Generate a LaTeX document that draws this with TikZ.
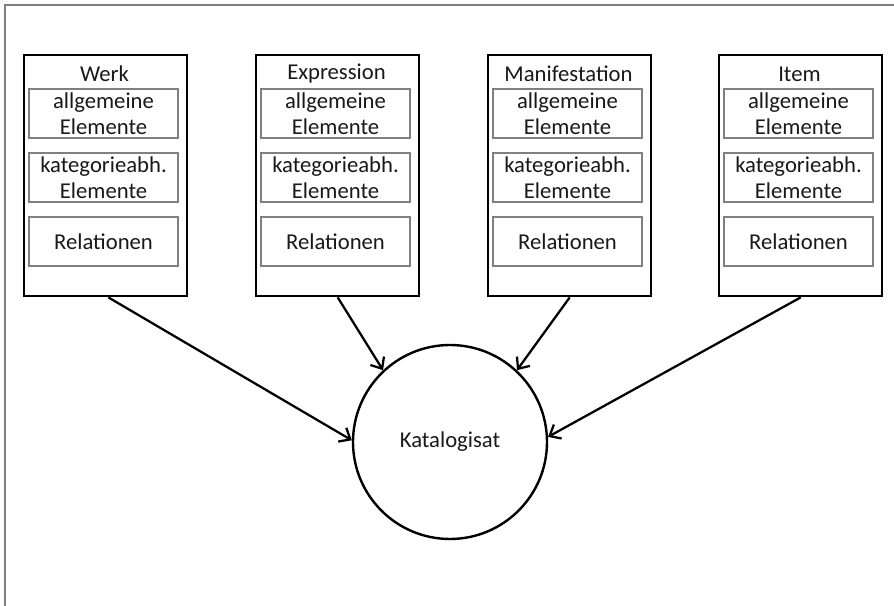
\documentclass[tikz,border=0pt]{standalone}
\usepackage{fontspec}
\setmainfont{Carlito}
\usetikzlibrary{arrows.meta,calc}
\begin{document}
\begin{tikzpicture}[x=0.75pt,y=-0.75pt,
  txt/.style={font=\fontsize{17}{19.5}\selectfont, text=black!90},
  entity/.style={draw=black, line width=1.8pt, fill=white, minimum width=163*0.75pt, minimum height=241*0.75pt, anchor=north west, inner sep=0pt},
  part/.style={txt, draw=gray, line width=2.2pt, minimum width=149*0.75pt, minimum height=49*0.75pt, align=center, inner sep=0pt},
  title/.style={txt, inner sep=0pt},
  cat/.style={txt, draw=black, line width=1.8pt, circle, minimum size=194*0.75pt, inner sep=0pt},
  link/.style={line width=1.7pt, -{Straight Barb[length=7pt,width=12pt]}},
  frame/.style={draw=gray, line width=1.2pt}
]
\useasboundingbox (0,0) rectangle (894,606);
\draw[frame] (5,606) -- (5,5) -- (894,5);

\foreach \nm/\lbl/\x in {werk/Werk/23, expr/Expression/255, mani/Manifestation/487, item/Item/718}{
  \node[entity] (\nm) at (\x,54) {};
  \node[title] (\nm-t) at (\x+81.5,74) {\lbl};
  \node[part] (\nm-a) at (\x+80.5,113.5) {allgemeine\\Elemente};
  \node[part] (\nm-b) at (\x+80.5,177.5) {kategorieabh.\\Elemente};
  \node[part] (\nm-c) at (\x+80.5,241.5) {Relationen};
}

\node[cat] (kat) at (450,442) {Katalogisat};

\draw[link] ([xshift=2pt]werk.south) -- (kat.179);
\draw[link] (expr.south) -- (kat.133);
\draw[link] (mani.south) -- (kat.47);
\draw[link] (item.south) -- (kat.3);
\end{tikzpicture}
\end{document}
